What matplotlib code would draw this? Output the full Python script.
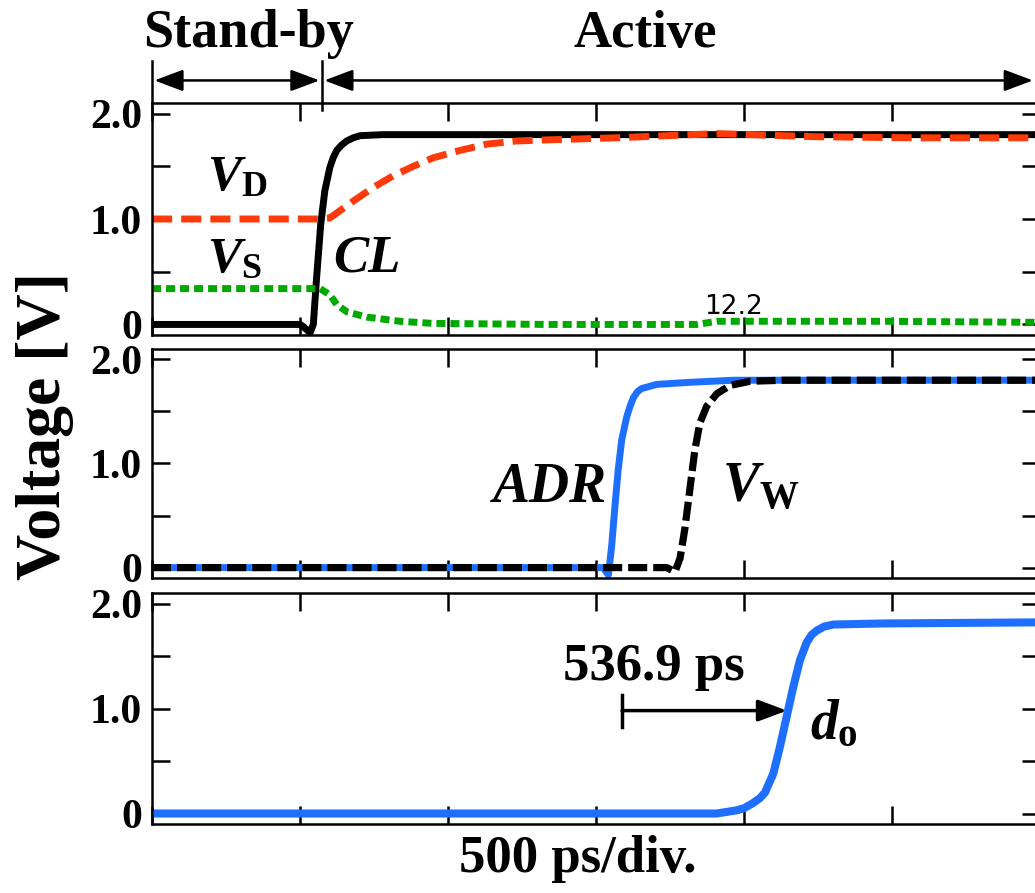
import matplotlib
matplotlib.use("Agg")
import matplotlib.pyplot as plt

plt.rcParams['font.family'] = ['Liberation Serif', 'DejaVu Sans']
plt.rcParams['font.weight'] = 'bold'
plt.rcParams['mathtext.fontset'] = 'custom'
plt.rcParams['mathtext.it'] = 'Liberation Serif:italic:bold'
plt.rcParams['mathtext.rm'] = 'Liberation Serif:bold'
plt.rcParams['mathtext.bf'] = 'Liberation Serif:bold'

# time in ps, voltage in V
cl_t = [0, 500, 511, 534, 545, 556, 570, 584, 601, 612, 624, 640, 658, 680, 703, 780, 3000]
cl_v = [0.0, 0.0, -0.02, -0.08, 0.0, 0.44, 0.95, 1.27, 1.49, 1.58, 1.65, 1.70, 1.74, 1.77, 1.79, 1.80, 1.80]

vd_t = [0, 560, 601, 680, 748, 815, 883, 950, 1040, 1131, 1232, 1333, 1570, 1908, 2020, 2246, 2584, 3000]
vd_v = [1.0, 1.0, 1.01, 1.17, 1.30, 1.41, 1.50, 1.58, 1.65, 1.71, 1.74, 1.75, 1.77, 1.81, 1.80, 1.78, 1.77, 1.77]

vs_t = [0, 568, 601, 624, 658, 725, 838, 950, 1344, 1840, 1908, 2020, 2470, 3000]
vs_v = [0.34, 0.34, 0.28, 0.19, 0.12, 0.07, 0.03, 0.01, 0.0, 0.0, 0.03, 0.03, 0.03, 0.02]

adr_t = [0, 1524, 1542, 1553, 1564, 1575, 1587, 1604, 1615, 1626, 1640, 1654, 1705, 1817, 1964, 3000]
adr_v = [0.0, 0.0, -0.07, 0.21, 0.59, 0.94, 1.23, 1.45, 1.55, 1.63, 1.69, 1.72, 1.76, 1.78, 1.80, 1.80]

vw_t = [0, 1739, 1767, 1784, 1800, 1817, 1834, 1851, 1874, 1908, 1953, 2020, 2132, 3000]
vw_v = [0.0, 0.0, -0.04, 0.09, 0.37, 0.75, 1.13, 1.39, 1.55, 1.67, 1.75, 1.79, 1.80, 1.80]

do_t = [0, 1908, 1975, 2000, 2031, 2055, 2071, 2099, 2121, 2144, 2166, 2189, 2212, 2228, 2245, 2270, 2302, 2470, 2977, 3000]
do_v = [0.0, 0.0, 0.03, 0.05, 0.10, 0.15, 0.20, 0.38, 0.63, 0.92, 1.20, 1.46, 1.63, 1.70, 1.74, 1.78, 1.80, 1.81, 1.82, 1.82]

y_ticks = [0, 1, 2]
y_tick_labels = ['0', '1.0', '2.0']
x_ticks = [0, 500, 1000, 1500, 2000, 2500, 3000]

RED = '#ff3a0a'
GREEN = '#00a800'
BLUE = '#1f6fff'

fig = plt.figure(figsize=(10.35, 8.93), dpi=100)
W, H = 1035.0, 893.0
left = 152 / W
width = (1040 - 152) / W


def make_axes(top_px, bottom_px):
    ax = fig.add_axes([left, 1 - bottom_px / H, width, (bottom_px - top_px) / H])
    ax.set_xlim(0, 3000)
    ax.set_ylim(-0.1, 2.1)
    ax.set_xticks(x_ticks)
    ax.set_xticklabels([])
    ax.set_yticks(y_ticks)
    ax.set_yticklabels(y_tick_labels, fontsize=30, fontweight='bold')
    ax.set_yticks([0.5, 1.5], minor=True)
    ax.tick_params(which='both', direction='in', length=13, width=1.8,
                   top=True, right=True, pad=7)
    for s in ax.spines.values():
        s.set_linewidth(1.8)
    return ax


ax1 = make_axes(103, 335)
ax2 = make_axes(349, 578)
ax3 = make_axes(593, 824)

# panel 1
ax1.plot(cl_t, cl_v, color='black', lw=5.0, solid_joinstyle='round')
ax1.plot(vd_t, vd_v, color=RED, lw=5.0, linestyle=(0, (2.9, 1.3)))
ax1.plot(vs_t, vs_v, color=GREEN, lw=5.0, linestyle=(0, (1.3, 0.72)))
ax1.text(186, 1.27, r'$V_{\mathrm{D}}$', fontsize=37, ha='left', va='baseline')
ax1.text(186, 0.50, r'$V_{\mathrm{S}}$', fontsize=37, ha='left', va='baseline')
ax1.text(611, 0.50, 'CL', fontsize=38, style='italic', ha='left', va='baseline')
ax1.text(1963, 0.095, '12.2', fontsize=19, family='DejaVu Sans', fontweight='normal',
         ha='center', va='baseline')

# panel 2
ax2.plot(adr_t, adr_v, color=BLUE, lw=5.0, solid_joinstyle='round')
ax2.plot(vw_t, vw_v, color='black', lw=5.2, linestyle=(0, (2.64, 0.83)))
ax2.text(1152, 0.63, 'ADR', fontsize=40, style='italic', ha='left', va='baseline')
ax2.text(1925, 0.63, r'$V_{\mathrm{W}}$', fontsize=40, ha='left', va='baseline')

# panel 3
ax3.plot(do_t, do_v, color=BLUE, lw=5.8, solid_joinstyle='round')
ax3.text(2223, 0.71, r'$d_{\mathrm{o}}$', fontsize=40, ha='left', va='baseline')
ax3.text(1388, 1.27, '536.9 ps', fontsize=38, ha='left', va='baseline')
ax3.plot([1588, 1588], [0.82, 1.13], color='black', lw=2.5)
ax3.annotate('', xy=(2145, 0.98), xytext=(1588, 0.98),
             arrowprops=dict(arrowstyle='-|>,head_length=0.8,head_width=0.3',
                             mutation_scale=22, lw=2.5, color='black',
                             shrinkA=0, shrinkB=0))

# stand-by / active markers above the top panel
for xb, yb in [(0, 2.105), (574, 2.03)]:
    ax1.plot([xb, xb], [yb, 2.5], color='black', lw=1.8, clip_on=False)
arrow_kw = dict(arrowstyle='<|-|>,head_length=0.8,head_width=0.3',
                mutation_scale=22, lw=1.8, color='black', shrinkA=0, shrinkB=0)
ax1.annotate('', xy=(8, 2.314), xytext=(566, 2.314), arrowprops=arrow_kw,
             annotation_clip=False)
ax1.annotate('', xy=(582, 2.314), xytext=(2976, 2.314), arrowprops=arrow_kw,
             annotation_clip=False)

fig.text(248 / W, 1 - 47 / H, 'Stand-by', fontsize=39, ha='center', va='baseline')
fig.text(645 / W, 1 - 47 / H, 'Active', fontsize=38, ha='center', va='baseline')
fig.text(578 / W, 1 - 872 / H, '500 ps/div.', fontsize=38, ha='center', va='baseline')
fig.text(45 / W, 1 - 426 / H, 'Voltage [V]', fontsize=46, rotation=90,
         ha='center', va='center')

fig.savefig('out.png', dpi=100)
